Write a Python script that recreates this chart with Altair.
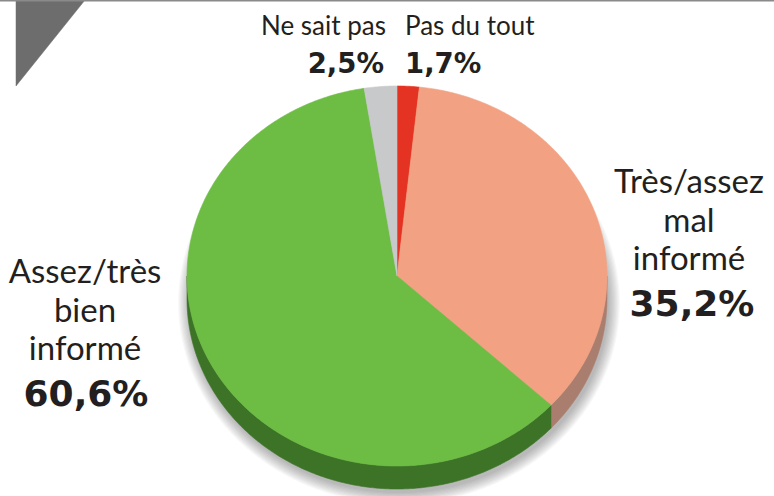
import altair as alt
import numpy as np
import pandas as pd

# ---- data ----
categories = ["Pas du tout", "Très/assez mal informé", "Assez/très bien informé", "Ne sait pas"]
values = [1.7, 35.2, 60.6, 2.5]
value_labels = ["1,7%", "35,2%", "60,6%", "2,5%"]
label_lines = [["Pas du tout"], ["Très/assez", "mal", "informé"], ["Assez/très", "bien", "informé"], ["Ne sait pas"]]

# ---- styles / layout ----
top_colors = ["#e53323", "#f2a283", "#6dbd45", "#c8c9cb"]
side_colors = ["#b02a1f", "#a97e6e", "#3d7327", "#9a9b9d"]
W, H = 774, 496
CX, CY, RX, RY, DEPTH = 397, 276, 210, 190, 23
FONT = "Lato"
NUM_FONT = "DejaVu Sans"

# label anchor (x, first baseline y, align, line step, value x, value baseline y)
label_layout = [
    (405, 35, "left", 0, 405, 73),
    (689, 193, "center", 38.5, 692, 316),
    (85, 283, "center", 38.5, 86, 406),
    (386, 35, "right", 0, 384, 73),
]


def pt(theta_deg, dy=0.0, rx=RX, ry=RY, cx=CX, cy=CY):
    t = np.radians(theta_deg)
    return cx + rx * np.sin(t), cy - ry * np.cos(t) + dy


def arc(a, b, **kw):
    n = max(2, int(abs(b - a) / 0.5) + 1)
    ths = np.linspace(a, b, n)
    return [pt(t, **kw) for t in ths]


rows_top, rows_side = [], []
total = sum(values)
start = 0.0
for i, (cat, v) in enumerate(zip(categories, values)):
    end = start + 360.0 * v / total
    pts = [(CX, CY)] + arc(start, end) + [(CX, CY)]
    for k, (x, y) in enumerate(pts):
        rows_top.append({"cat": cat, "k": k, "x": x, "y": y})
    lo, hi = max(start, 90.0), min(end, 270.0)
    if lo < hi:
        spts = arc(lo, hi) + arc(hi, lo, dy=DEPTH)
        spts.append(spts[0])
        for k, (x, y) in enumerate(spts):
            rows_side.append({"side": cat, "k": k, "x": x, "y": y})
    start = end

df_top = pd.DataFrame(rows_top)
df_side = pd.DataFrame(rows_side)

rows_sh = []
for r in range(10):
    pts = arc(0, 360, dy=0, rx=RX + r * 1.2, ry=RY + r * 1.2, cx=CX + 2, cy=CY + DEPTH + 4)
    for k, (x, y) in enumerate(pts):
        rows_sh.append({"ring": r, "k": k, "x": x, "y": y})
df_sh = pd.DataFrame(rows_sh)

xs = alt.Scale(domain=[0, W], nice=False, zero=False)
ys = alt.Scale(domain=[H, 0], nice=False, zero=False)
X = lambda f="x": alt.X(f + ":Q", scale=xs, axis=None)
Y = lambda f="y": alt.Y(f + ":Q", scale=ys, axis=None)

shadow = alt.Chart(df_sh).mark_line(fill="#3a3a48", fillOpacity=0.045, strokeWidth=0).encode(
    x=X(), y=Y(), detail="ring:N", order="k:Q"
)

side = alt.Chart(df_side).mark_line(strokeWidth=0.6).encode(
    x=X(), y=Y(), detail="side:N", order="k:Q",
    fill=alt.Fill("side:N", scale=alt.Scale(domain=categories, range=side_colors), legend=None),
    stroke=alt.Stroke("side:N", scale=alt.Scale(domain=categories, range=side_colors), legend=None),
)

top = alt.Chart(df_top).mark_line(strokeWidth=0.6).encode(
    x=X(), y=Y(), detail="cat:N", order="k:Q",
    fill=alt.Fill("cat:N", scale=alt.Scale(domain=categories, range=top_colors), legend=None),
    stroke=alt.Stroke("cat:N", scale=alt.Scale(domain=categories, range=top_colors), legend=None),
)

# decoration: top rule and triangle
df_tri = pd.DataFrame({"x": [16, 85, 16, 16], "y": [0, 0, 86, 0], "k": [0, 1, 2, 3]})
tri = alt.Chart(df_tri).mark_line(fill="#6d6d6d", stroke="#6d6d6d", strokeWidth=0.5).encode(
    x=X(), y=Y(), order="k:Q"
)
topline = alt.Chart(pd.DataFrame({"x": [0], "x2": [W], "y": [0.8]})).mark_rule(
    color="#8a8a8a", strokeWidth=1.6
).encode(x=X(), x2="x2:Q", y=Y())

layers = [shadow, side, top, tri, topline]
for i, lines in enumerate(label_lines):
    lx, ly, al, step, vx, vy = label_layout[i]
    dfl = pd.DataFrame({"t": lines, "x": [lx] * len(lines), "y": [ly + j * step for j in range(len(lines))]})
    layers.append(
        alt.Chart(dfl).mark_text(font=FONT, fontSize=(26 if step == 0 else 33), align=al,
                                 baseline="alphabetic", color="#231f20").encode(x=X(), y=Y(), text="t:N")
    )
    dfv = pd.DataFrame({"t": [value_labels[i]], "x": [vx], "y": [vy]})
    layers.append(
        alt.Chart(dfv).mark_text(font=NUM_FONT, fontSize=(27.5 if step == 0 else 36), fontWeight="bold",
                                 align=al, baseline="alphabetic", color="#231f20").encode(
            x=X(), y=Y(), text="t:N")
    )

chart = alt.layer(*layers).resolve_scale(fill="independent", stroke="independent").properties(
    width=W, height=H, padding=0, autosize=alt.AutoSizeParams(type="none")
).configure_view(stroke=None)

chart.save("out.html", embed_options={"renderer": "svg", "actions": False})
